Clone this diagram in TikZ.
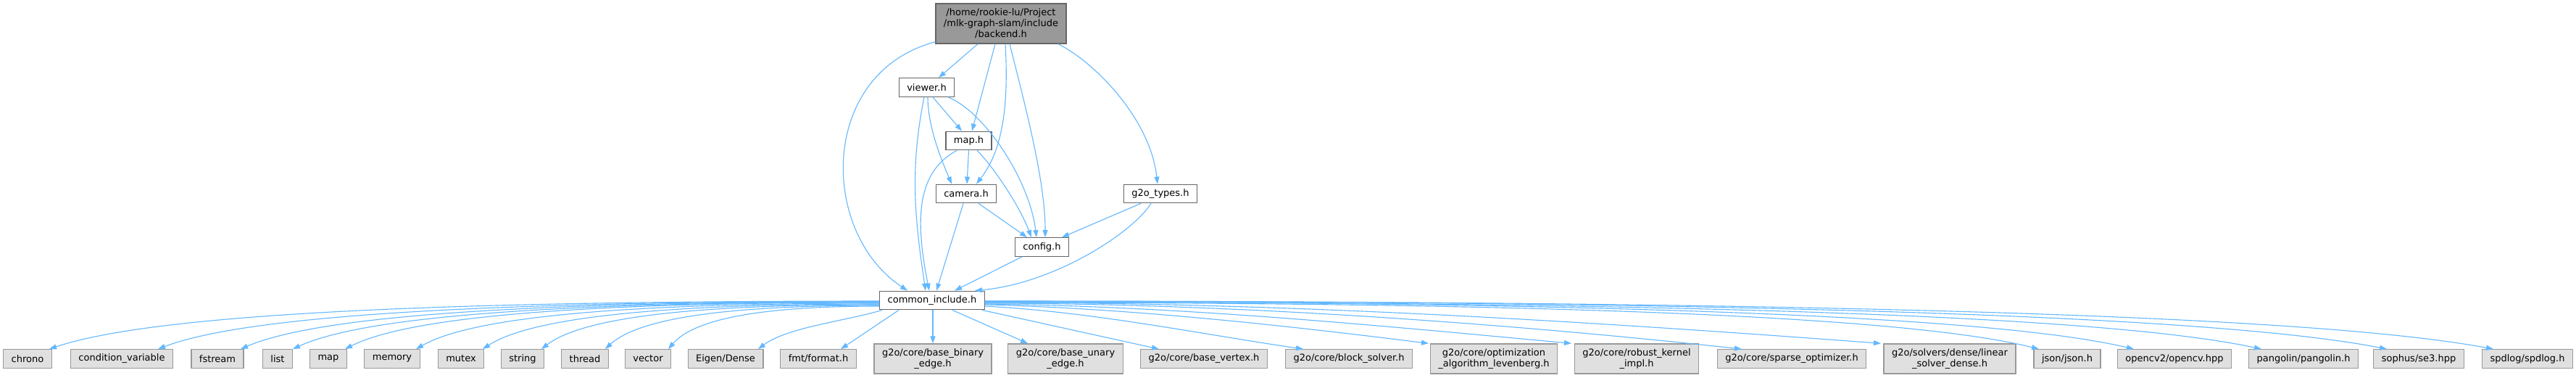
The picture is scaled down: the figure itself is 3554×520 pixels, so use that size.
\documentclass[tikz,border=0pt]{standalone}
\usepackage{fontspec}
\setmainfont{DejaVu Sans}
\usetikzlibrary{arrows.meta}

\definecolor{depblue}{HTML}{63B8FF}
\definecolor{hdrline}{HTML}{666666}
\definecolor{sysline}{HTML}{999999}
\definecolor{sysfill}{HTML}{E0E0E0}
\definecolor{rootfill}{HTML}{999999}

\begin{document}
\begin{tikzpicture}[
  x=1pt, y=-1pt,
  font=\fontsize{13}{15}\selectfont,
  every node/.style={align=center, inner xsep=11pt, inner ysep=2pt, line width=1.3pt},
  rootfile/.style={draw=hdrline, fill=rootfill, minimum height=55pt},
  hdr/.style ={draw=hdrline, fill=white, minimum height=25.5pt},
  sys/.style ={draw=sysline, fill=sysfill, minimum height=25.5pt},
  sys2/.style={sys, minimum height=41pt},
  dep/.style ={draw=depblue, line width=1.1pt, -{Triangle[length=10pt, width=7pt]}},
]
\path[use as bounding box, fill=white] (0,0) rectangle (3554,520);

% ---- project headers ------------------------------------------------------
\node[rootfile] (backend) at (1381,32.5)
  {/home/rookie-lu/Project\\/mlk-graph-slam/include\\/backend.h};
\node[hdr] (viewer)   at (1278.5,120.5) {viewer.h};
\node[hdr] (mapfile)  at (1336.5,194)   {map.h};
\node[hdr] (camera)   at (1333,267)     {camera.h};
\node[hdr] (g2otypes) at (1601,267)     {g2o\_types.h};
\node[hdr] (config)   at (1437.5,340.5) {config.h};
\node[hdr] (ci)       at (1286,414)     {common\_include.h};

% ---- system / third-party headers ------------------------------------------
\node[sys]  (chrono)   at (38,494.5)   {chrono};
\node[sys]  (condvar)  at (168,494.5)  {condition\_variable};
\node[sys]  (fstream)  at (300,494.5)  {fstream};
\node[sys]  (list)     at (383,494.5)  {list};
\node[sys]  (stlmap)   at (453,494.5)  {map};
\node[sys]  (memory)   at (541,494.5)  {memory};
\node[sys]  (mutex)    at (636,494.5)  {mutex};
\node[sys]  (string)   at (721,494.5)  {string};
\node[sys]  (thread)   at (807,494.5)  {thread};
\node[sys]  (vector)   at (894,494.5)  {vector};
\node[sys]  (eigen)    at (1001,494.5) {Eigen/Dense};
\node[sys]  (fmt)      at (1129,494.5) {fmt/format.h};
\node[sys2] (binary)   at (1287,494.5) {g2o/core/base\_binary\\\_edge.h};
\node[sys2] (unary)    at (1470,494.5) {g2o/core/base\_unary\\\_edge.h};
\node[sys]  (vertex)   at (1661,494.5) {g2o/core/base\_vertex.h};
\node[sys]  (block)    at (1861,494.5) {g2o/core/block\_solver.h};
\node[sys2] (lev)      at (2061,494.5) {g2o/core/optimization\\\_algorithm\_levenberg.h};
\node[sys2] (robust)   at (2258,494.5) {g2o/core/robust\_kernel\\\_impl.h};
\node[sys]  (sparse)   at (2472,494.5) {g2o/core/sparse\_optimizer.h};
\node[sys2] (linear)   at (2690,494.5) {g2o/solvers/dense/linear\\\_solver\_dense.h};
\node[sys]  (json)     at (2852,494.5) {json/json.h};
\node[sys]  (opencv)   at (3000,494.5) {opencv2/opencv.hpp};
\node[sys]  (pangolin) at (3178,494.5) {pangolin/pangolin.h};
\node[sys]  (sophus)   at (3337,494.5) {sophus/se3.hpp};
\node[sys]  (spdlog)   at (3487,494.5) {spdlog/spdlog.h};

% backend.h includes
\draw[dep] ([xshift=-32]backend.south) -- ([xshift=16.5]viewer.north);
\draw[dep] ([xshift=-8]backend.south) -- ([xshift=4.5]mapfile.north);
\draw[dep] ([xshift=6]backend.south) .. controls +(5,90) and +(35,-45) .. ([xshift=14]camera.north);
\draw[dep] ([xshift=12]backend.south) .. controls +(20,80) and +(0,-80) .. ([xshift=4.5]config.north);
\draw[dep] ([xshift=79]backend.south) .. controls +(50,25) and +(-10,-90) .. ([xshift=-4]g2otypes.north);
\draw[dep] ([yshift=3]backend.south west) .. controls +(-161,43) and +(-122,-81) .. ([xshift=-34]ci.north);

% viewer.h / map.h / camera.h
\draw[dep] ([xshift=8.5]viewer.south) -- ([xshift=-9.5]mapfile.north);
\draw[dep] ([xshift=1.5]viewer.south) .. controls +(0,40) and +(-15,-35) .. ([xshift=-20]camera.north);
\draw[dep] ([xshift=29.5]viewer.south) .. controls +(50,20) and +(-10,-80) .. ([xshift=-7.5]config.north);
\draw[dep] ([xshift=-3.5]viewer.south) .. controls +(-20,100) and +(-15,-100) .. ([xshift=-9]ci.north);
\draw[dep] (mapfile.south) -- ([xshift=1]camera.north);
\draw[dep] ([xshift=11.5]mapfile.south) .. controls +(25,25) and +(-15,-40) .. ([xshift=-14.5]config.north);
\draw[dep] ([xshift=-16.5]mapfile.south) .. controls +(-55,30) and +(-20,-100) .. ([xshift=-4]ci.north);
\draw[dep] ([xshift=17]camera.south) -- ([xshift=-20.5]config.north);
\draw[dep] ([xshift=-4]camera.south) -- ([xshift=6]ci.north);
\draw[dep] ([xshift=-27.5]config.south) -- ([xshift=31]ci.north);
\draw[dep] ([xshift=-27]g2otypes.south) -- ([xshift=27.5]config.north);
\draw[dep] ([xshift=-13]g2otypes.south) .. controls +(-25,40) and +(110,-10) .. ([xshift=59]ci.north);

% common_include.h -> left fan
\draw[dep] ([yshift=-1]ci.west) .. controls +(-515,0) and +(160,-54) .. ([xshift=30]chrono.north);
\draw[dep] ([yshift=-1.5]ci.west) .. controls +(-448,0) and +(139,-53) .. ([xshift=50]condvar.north);
\draw[dep] ([yshift=-2]ci.west) .. controls +(-396,0) and +(123,-53) .. ([xshift=32]fstream.north);
\draw[dep] ([yshift=-2.5]ci.west) .. controls +(-364,0) and +(113,-52) .. ([xshift=21]list.north);
\draw[dep] ([yshift=-3]ci.west) .. controls +(-332,0) and +(103,-52) .. ([xshift=23]stlmap.north);
\draw[dep] ([yshift=-4]ci.west) .. controls +(-288,0) and +(89,-51) .. ([xshift=33]memory.north);
\draw[dep] ([yshift=-5]ci.west) .. controls +(-246,0) and +(77,-50) .. ([xshift=30]mutex.north);
\draw[dep] ([yshift=-6]ci.west) .. controls +(-210,0) and +(65,-50) .. ([xshift=26]string.north);
\draw[dep] ([yshift=-7]ci.west) .. controls +(-170,0) and +(53,-49) .. ([xshift=28]thread.north);
\draw[dep] ([yshift=-8]ci.west) .. controls +(-130,0) and +(41,-48) .. ([xshift=28]vector.north);
\draw[dep] ([xshift=4]ci.south west) .. controls +(-50,15) and +(40,-30) .. ([xshift=45]eigen.north);
\draw[dep] ([xshift=27]ci.south west) -- ([xshift=31]fmt.north);

% common_include.h -> right fan
\draw[dep] ([xshift=1]ci.south) -- (binary.north);
\draw[dep] ([xshift=28]ci.south) -- ([xshift=-52]unary.north);
\draw[dep] ([xshift=-4]ci.south east) -- ([xshift=-62]vertex.north);
\draw[dep] ([yshift=-8]ci.east) .. controls +(150,8) and +(-150,-22) .. ([xshift=-63]block.north);
\draw[dep] ([yshift=-6]ci.east) .. controls +(200,5) and +(-200,-25) .. ([xshift=-90]lev.north);
\draw[dep] ([yshift=-5]ci.east) .. controls +(270,3) and +(-270,-25) .. ([xshift=-90]robust.north);
\draw[dep] ([yshift=-4]ci.east) .. controls +(340,0) and +(-320,-35) .. ([xshift=-69]sparse.north);
\draw[dep] ([yshift=-3]ci.east) .. controls +(420,0) and +(-400,-30) .. ([xshift=-95]linear.north);
\draw[dep] ([yshift=-3]ci.east) .. controls +(654,0) and +(-204,-51) .. ([xshift=-39]json.north);
\draw[dep] ([yshift=-2]ci.east) .. controls +(713,0) and +(-222,-52) .. ([xshift=-56]opencv.north);
\draw[dep] ([yshift=-2]ci.east) .. controls +(792,0) and +(-247,-53) .. ([xshift=-58]pangolin.north);
\draw[dep] ([yshift=-1]ci.east) .. controls +(870,0) and +(-271,-53) .. ([xshift=-44]sophus.north);
\draw[dep] ([yshift=-1]ci.east) .. controls +(936,0) and +(-291,-54) .. ([xshift=-47]spdlog.north);
\end{tikzpicture}
\end{document}
